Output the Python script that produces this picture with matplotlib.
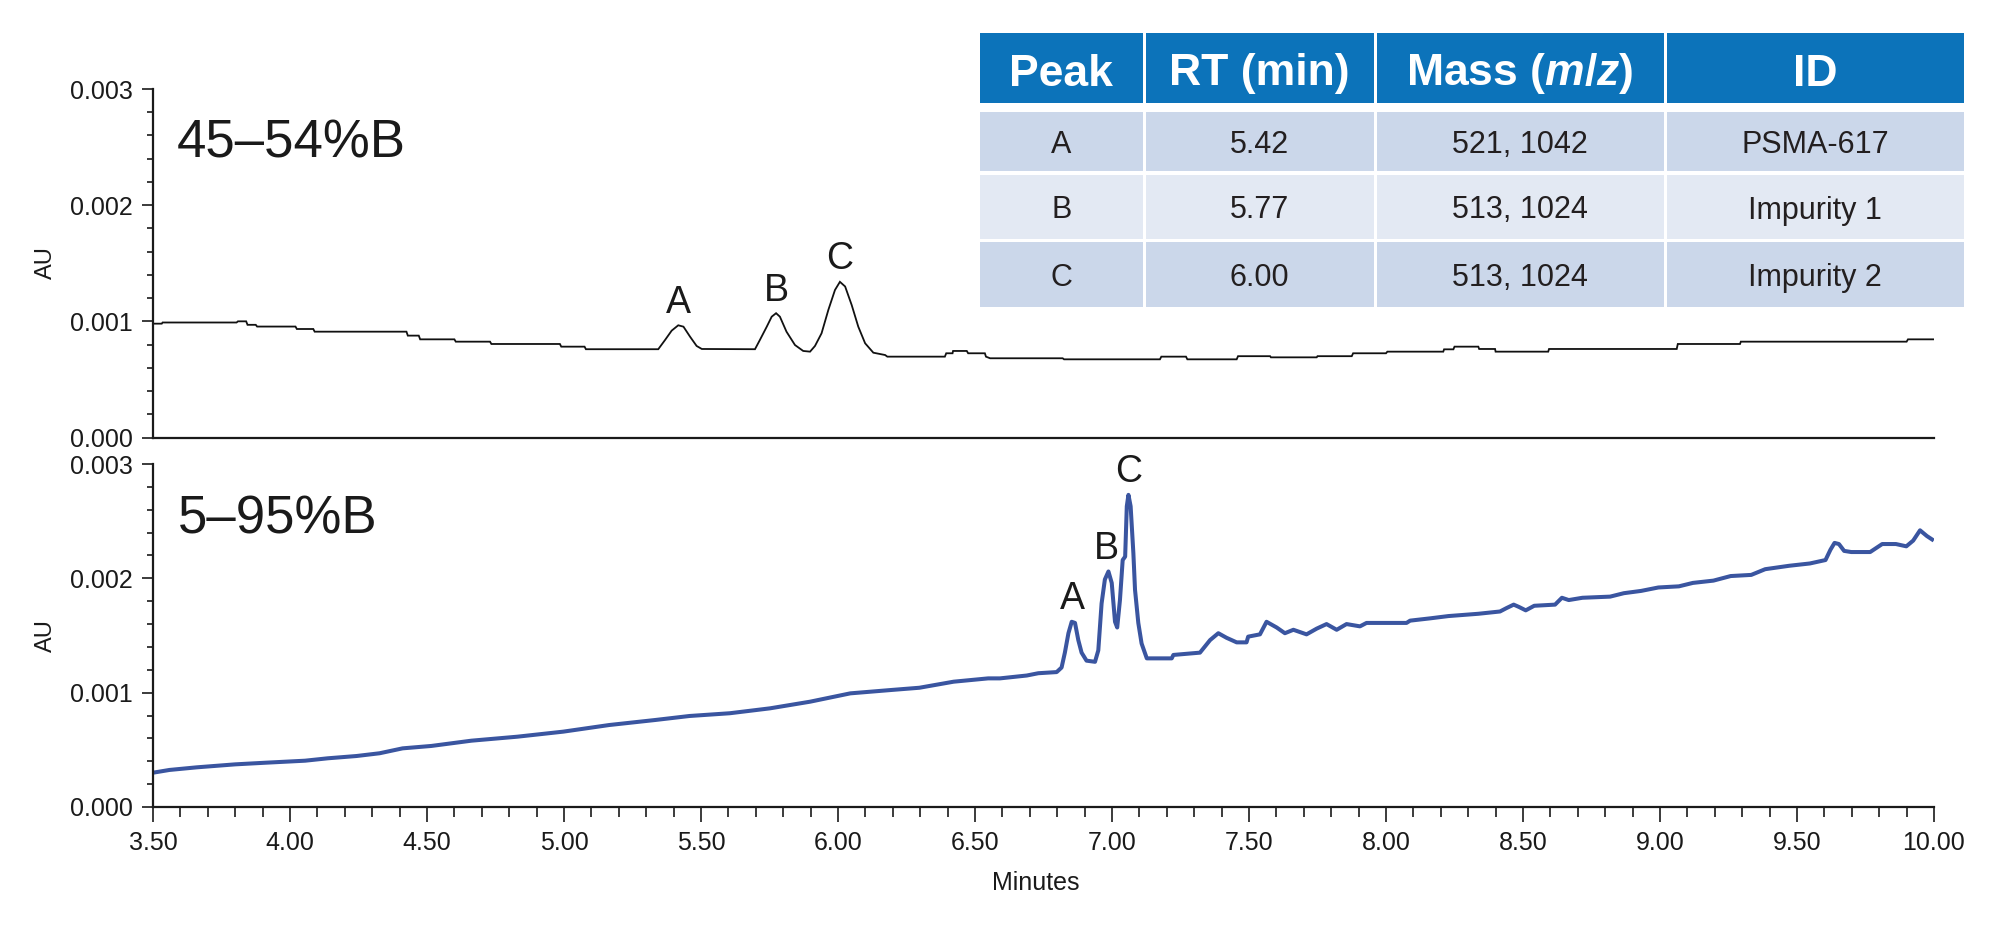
import matplotlib
matplotlib.use("Agg")
import matplotlib.pyplot as plt
from matplotlib.ticker import MultipleLocator, FormatStrFormatter
from matplotlib.patches import Rectangle

plt.rcParams['font.family'] = ['Liberation Sans', 'DejaVu Sans']
plt.rcParams['mathtext.fontset'] = 'custom'
plt.rcParams['mathtext.it'] = 'Liberation Sans:italic:bold'
plt.rcParams['mathtext.rm'] = 'Liberation Sans:bold'

# ---------------- data ----------------
# Top chromatogram (45-54%B): time (min), absorbance (AU)
top_time = [3.50, 3.532, 3.535, 3.805, 3.81, 3.84, 3.845, 3.875, 3.88, 4.02, 4.025, 4.085,
            4.09, 4.425, 4.43, 4.47, 4.475, 4.60, 4.605, 4.73, 4.735, 4.985, 4.99, 5.075,
            5.08, 5.344, 5.369, 5.393, 5.417, 5.436, 5.46, 5.484, 5.503, 5.697, 5.715, 5.74,
            5.758, 5.774, 5.788, 5.812, 5.843, 5.873, 5.898, 5.916, 5.94, 5.965, 5.989, 6.007,
            6.026, 6.05, 6.074, 6.099, 6.129, 6.172, 6.18, 6.39, 6.395, 6.418, 6.42, 6.47,
            6.475, 6.536, 6.54, 6.555, 6.82, 6.825, 7.175, 7.18, 7.27, 7.275, 7.455, 7.46,
            7.577, 7.58, 7.747, 7.75, 7.875, 7.88, 8.0, 8.005, 8.209, 8.212, 8.246, 8.25,
            8.337, 8.34, 8.398, 8.40, 8.592, 8.595, 9.061, 9.065, 9.292, 9.295, 9.90, 9.905, 10.0]
top_au = [0.00098, 0.00098, 0.00099, 0.00099, 0.001, 0.001, 0.00097, 0.00097, 0.000955, 0.000955, 0.000934, 0.000934,
          0.000911, 0.000911, 0.000877, 0.000877, 0.000845, 0.000845, 0.000825, 0.000825, 0.000805, 0.000805, 0.000782, 0.000782,
          0.00076, 0.00076, 0.00084, 0.00092, 0.000966, 0.000954, 0.000868, 0.000788, 0.000762, 0.00076, 0.00084, 0.000954,
          0.00104, 0.00107, 0.00104, 0.000911, 0.000796, 0.000745, 0.000739, 0.000788, 0.000897, 0.0011, 0.00127, 0.00134,
          0.0013, 0.00114, 0.000954, 0.000811, 0.00073, 0.00071, 0.000696, 0.000696, 0.000725, 0.000725, 0.000745, 0.000745,
          0.000725, 0.000725, 0.000696, 0.000682, 0.000682, 0.000673, 0.000673, 0.000696, 0.000696, 0.000673, 0.000673, 0.0007,
          0.0007, 0.00069, 0.00069, 0.0007, 0.0007, 0.000725, 0.000725, 0.000739, 0.000739, 0.000759, 0.000759, 0.000782,
          0.000782, 0.000762, 0.000762, 0.000739, 0.000739, 0.000762, 0.000762, 0.000805, 0.000805, 0.000825, 0.000825, 0.000845, 0.000845]

# Bottom chromatogram (5-95%B)
bot_time = [3.50, 3.56, 3.66, 3.80, 3.908, 4.055, 4.138, 4.243, 4.327, 4.411, 4.516, 4.662,
            4.83, 4.997, 5.165, 5.333, 5.458, 5.605, 5.752, 5.898, 6.045, 6.192, 6.297, 6.422,
            6.548, 6.591, 6.689, 6.731, 6.798, 6.816, 6.828, 6.841, 6.853, 6.865, 6.877, 6.889,
            6.907, 6.938, 6.950, 6.962, 6.974, 6.987, 6.999, 7.011, 7.019, 7.029, 7.039, 7.048,
            7.054, 7.060, 7.068, 7.078, 7.084, 7.096, 7.108, 7.127, 7.218, 7.224, 7.321, 7.358,
            7.388, 7.418, 7.455, 7.491, 7.497, 7.540, 7.564, 7.601, 7.631, 7.662, 7.710, 7.747,
            7.783, 7.820, 7.856, 7.905, 7.929, 8.075, 8.088, 8.161, 8.228, 8.337, 8.416, 8.440,
            8.466, 8.485, 8.510, 8.541, 8.617, 8.642, 8.667, 8.717, 8.818, 8.868, 8.931, 8.994,
            9.069, 9.120, 9.195, 9.258, 9.333, 9.384, 9.472, 9.547, 9.604, 9.622, 9.637, 9.653,
            9.672, 9.698, 9.767, 9.811, 9.861, 9.899, 9.924, 9.949, 9.974, 9.993]
bot_au = [0.0003, 0.000324, 0.000347, 0.000373, 0.000387, 0.000405, 0.000426, 0.000446, 0.00047, 0.000513, 0.000534, 0.00058,
          0.000615, 0.000659, 0.000717, 0.000761, 0.000796, 0.00082, 0.000863, 0.000921, 0.000994, 0.001023, 0.001043, 0.001096,
          0.001125, 0.001125, 0.00115, 0.00117, 0.00118, 0.00122, 0.00135, 0.00152, 0.00162, 0.00161, 0.00146, 0.00135,
          0.00128, 0.00127, 0.00137, 0.00178, 0.00199, 0.00206, 0.00196, 0.00162, 0.00157, 0.00181, 0.00216, 0.00219,
          0.00263, 0.00273, 0.00263, 0.00222, 0.0019, 0.00161, 0.00143, 0.0013, 0.0013, 0.00133, 0.00135, 0.00146,
          0.00152, 0.00148, 0.00144, 0.00144, 0.00149, 0.00151, 0.00162, 0.00157, 0.00152, 0.00155, 0.00151, 0.00156,
          0.0016, 0.00155, 0.0016, 0.00158, 0.00161, 0.00161, 0.00163, 0.00165, 0.00167, 0.00169, 0.00171, 0.00174,
          0.00177, 0.00175, 0.00172, 0.00176, 0.00177, 0.00183, 0.00181, 0.00183, 0.00184, 0.00187, 0.00189, 0.00192,
          0.00193, 0.00196, 0.00198, 0.00202, 0.00203, 0.00208, 0.00211, 0.00213, 0.00216, 0.00225, 0.00231, 0.0023,
          0.00224, 0.00223, 0.00223, 0.0023, 0.0023, 0.00228, 0.00233, 0.00242, 0.00237, 0.00234]

peak_labels = ['A', 'B', 'C']
top_peak_rt = [5.417, 5.774, 6.007]
top_peak_au = [0.000966, 0.00107, 0.00134]
bot_peak_rt = [6.856, 6.980, 7.060]
bot_peak_au = [0.00162, 0.00206, 0.00273]

panel_titles = ['45\u201354%B', '5\u201395%B']

table_headers = ['Peak', 'RT (min)', r'Mass ($\mathit{m/z}$)', 'ID']
table_peak = ['A', 'B', 'C']
table_rt = ['5.42', '5.77', '6.00']
table_mass = ['521, 1042', '513, 1024', '513, 1024']
table_id = ['PSMA-617', 'Impurity 1', 'Impurity 2']

xticks_major = [3.5, 4.0, 4.5, 5.0, 5.5, 6.0, 6.5, 7.0, 7.5, 8.0, 8.5, 9.0, 9.5, 10.0]

# ---------------- figure ----------------
W, H = 2000, 925
fig = plt.figure(figsize=(20, 9.25), dpi=100)
fig.patch.set_facecolor('white')

def fx(px):
    return px / W

def fy(py):
    return 1 - py / H

L, R = 153, 1934
ax1 = fig.add_axes([fx(L), fy(437.5), fx(R - L), (437.5 - 89) / H])
ax2 = fig.add_axes([fx(L), fy(807), fx(R - L), (807 - 464) / H])

tick_fs = 18
for ax in (ax1, ax2):
    ax.set_xlim(3.5, 10.0)
    ax.set_ylim(0, 0.003)
    for s in ('top', 'right'):
        ax.spines[s].set_visible(False)
    for s in ('left', 'bottom'):
        ax.spines[s].set_linewidth(1.6)
        ax.spines[s].set_color('#1a1a1a')
    ax.yaxis.set_major_locator(MultipleLocator(0.001))
    ax.yaxis.set_minor_locator(MultipleLocator(0.0002))
    ax.yaxis.set_major_formatter(FormatStrFormatter('%.3f'))
    ax.tick_params(axis='y', which='major', direction='out', length=7.7, width=1.2,
                   labelsize=tick_fs, pad=7, colors='#1a1a1a')
    ax.tick_params(axis='y', which='minor', direction='out', length=4, width=1.2, colors='#1a1a1a')
    ax.set_xticks(xticks_major)
    ax.xaxis.set_minor_locator(MultipleLocator(0.1))
    ax.xaxis.set_major_formatter(FormatStrFormatter('%.2f'))
    ax.patch.set_alpha(0)

ax1.tick_params(axis='x', which='both', bottom=False, labelbottom=False)
ax2.tick_params(axis='x', which='major', direction='out', length=11, width=1.2,
                labelsize=tick_fs, pad=6, colors='#1a1a1a')
ax2.tick_params(axis='x', which='minor', direction='out', length=7, width=1.2, colors='#1a1a1a')

ax1.plot(top_time, top_au, color='#111111', lw=1.3, solid_joinstyle='miter')
ax2.plot(bot_time, bot_au, color='#3A55A0', lw=2.9, solid_joinstyle='round')

for lab, t, v in zip(peak_labels, top_peak_rt, top_peak_au):
    ax1.annotate(lab, xy=(t, v), xytext=(0, 9), textcoords='offset points',
                 ha='center', va='baseline', fontsize=27, color='#1a1a1a')
for lab, t, v in zip(peak_labels, bot_peak_rt, bot_peak_au):
    ax2.annotate(lab, xy=(t, v), xytext=(0, 9), textcoords='offset points',
                 ha='center', va='baseline', fontsize=27, color='#1a1a1a')

fig.text(fx(177), fy(157), panel_titles[0], fontsize=38, ha='left', va='baseline', color='#1a1a1a')
fig.text(fx(178), fy(533), panel_titles[1], fontsize=38, ha='left', va='baseline', color='#1a1a1a')

fig.text(fx(46), fy(263), 'AU', rotation=90, fontsize=17, ha='center', va='center', color='#1a1a1a')
fig.text(fx(46), fy(636), 'AU', rotation=90, fontsize=17, ha='center', va='center', color='#1a1a1a')
fig.text(fx(1036), fy(883), 'Minutes', fontsize=18, ha='center', va='center', color='#1a1a1a')

# ---------------- table ----------------
tax = fig.add_axes([0, 0, 1, 1], zorder=5)
tax.set_xlim(0, W)
tax.set_ylim(H, 0)
tax.axis('off')
tax.patch.set_alpha(0)

col_edges = [980, 1144, 1375, 1665, 1964]
row_edges = [(33, 103), (112, 171), (175, 239), (242, 307)]
gap = 1.5
header_color = '#0C73BA'
row_colors = ['#CBD7EA', '#E3E9F3', '#CBD7EA']

for j, htxt in enumerate(table_headers):
    x0, x1 = col_edges[j] + (gap if j > 0 else 0), col_edges[j + 1] - (gap if j < 3 else 0)
    y0, y1 = row_edges[0]
    tax.add_patch(Rectangle((x0, y0), x1 - x0, y1 - y0, facecolor=header_color, edgecolor='none'))
    tax.text((x0 + x1) / 2, (y0 + y1) / 2 + 6, htxt, ha='center', va='center',
             fontsize=32, fontweight='bold', color='white')

body_cols = [table_peak, table_rt, table_mass, table_id]
for i in range(3):
    y0, y1 = row_edges[i + 1]
    for j in range(4):
        x0, x1 = col_edges[j] + (gap if j > 0 else 0), col_edges[j + 1] - (gap if j < 3 else 0)
        tax.add_patch(Rectangle((x0, y0), x1 - x0, y1 - y0, facecolor=row_colors[i], edgecolor='none'))
        tax.text((x0 + x1) / 2, (y0 + y1) / 2 + 3.5, body_cols[j][i], ha='center', va='center',
                 fontsize=22, color='#231F20')

fig.savefig('out.png', dpi=100, facecolor='white')
